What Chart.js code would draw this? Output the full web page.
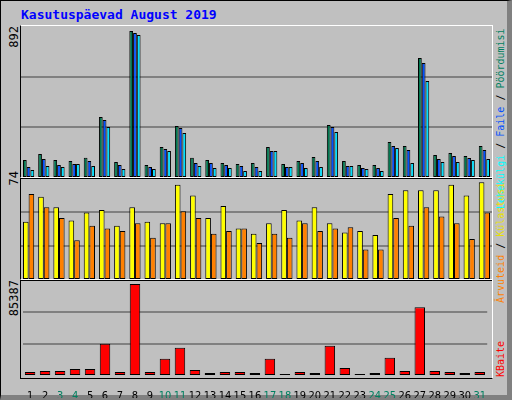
<!DOCTYPE html>
<html lang="et">
<head>
<meta charset="UTF-8">
<title>Kasutuspäevad August 2019</title>
<script src="https://cdn.jsdelivr.net/npm/chart.js"></script>
<style>
  body { margin: 0; background: #fff; font-family: "DejaVu Sans Mono", monospace; }
  #frame { position: absolute; left: 0; top: 0; width: 506px; height: 394px; background: #c0c0c0;
           border: 1px solid #000; border-right: 5px solid #808080; border-bottom: 5px solid #808080; }
  .panel { position: absolute; left: 20px; width: 471px; }
  .box { position: absolute; left: 19px; width: 471px; border: 1px solid #000; border-top-color: #fff; border-right-color: #fff; }
  .rot { position: absolute; transform-origin: 0 0; transform: rotate(-90deg); white-space: nowrap; font-size: 10px; }
  #title { position: absolute; left: 20px; top: 6px; color: #0000ff; font-weight: bold; font-size: 13px; }
</style>
</head>
<body>
<div id="frame">
  <div id="title">Kasutuspäevad August 2019</div>
  <div class="box" style="top:24px;height:152px"></div>
  <div class="box" style="top:176px;height:102px"></div>
  <div class="box" style="top:278px;height:98px"></div>
  <div class="panel" style="top:25px;height:152px"><canvas id="top"></canvas></div>
  <div class="panel" style="top:177px;height:102px"><canvas id="mid"></canvas></div>
  <div class="panel" style="top:279px;height:118px"><canvas id="bot"></canvas></div>

  <div class="rot" style="left:6px;top:49px;text-align:right;width:24px;font-size:12px">892</div>
  <div class="rot" style="left:6px;top:194px;text-align:right;width:24px;font-size:12px">74</div>
  <div class="rot" style="left:6px;top:323px;text-align:right;width:44px;font-size:12px">85387</div>

  <div class="rot" style="left:494px;top:208px;width:180px;text-align:right"><span style="color:#00ffff">Lehekülgi</span> / <span style="color:#0050ff">Faile</span> / <span style="color:#008060">Pöördumisi</span></div>
  <div class="rot" style="left:494px;top:302px;width:150px"><span style="color:#ff8000">Ãrvuteid</span> / <span style="color:#e8e000">Külastusi</span></div>
  <div class="rot" style="left:494px;top:376px;width:80px"><span style="color:#ff0000">KBaite</span></div>
</div>
<script>
const days = ['1','2','3','4','5','6','7','8','9','10','11','12','13','14','15','16','17','18','19','20','21','22','23','24','25','26','27','28','29','30','31'];
const weekend = ['3','4','10','11','17','18','24','25','31'];

const hits  = [109,146,109,103,123,370,97,892,79,188,316,123,109,91,85,91,188,85,103,127,322,103,79,79,218,194,728,140,152,134,194];
const files = [67,115,79,85,103,352,79,880,67,176,303,91,91,79,73,67,164,67,91,103,310,73,61,61,194,170,698,115,134,121,170];
const pages = [49,73,67,85,73,310,55,868,55,164,273,73,61,61,42,42,164,67,61,67,279,73,55,42,182,91,589,97,97,109,115];

const visits   = [44,63,55,45,51,53,41,55,44,43,72,64,47,56,39,35,43,53,45,55,43,36,37,34,65,68,68,68,72,64,74];
const visitors = [65,55,47,30,41,39,37,43,32,43,52,47,35,37,39,28,35,32,43,37,39,40,23,23,47,41,55,48,43,31,51];

const kbytes = [3750,4700,4700,6570,6570,30000,3750,85387,3750,15950,26270,5630,2800,3750,3750,2800,15950,1880,3750,2800,28150,7500,1880,2800,16900,4700,63800,4700,3750,2800,3750];

function opts(max, showX) {
  return {
    responsive: true, maintainAspectRatio: false, animation: false,
    layout: { padding: 0 },
    plugins: { legend: { display: false }, tooltip: { enabled: false } },
    scales: {
      x: {
        grid: { display: false }, border: { display: false },
        ticks: {
          display: showX, autoSkip: false, maxRotation: 0, padding: 6,
          font: { family: 'DejaVu Sans Condensed', size: 11 },
          color: ctx => weekend.includes(days[ctx.index]) ? '#008060' : '#000'
        },
        afterFit: s => { if (showX) s.height = 22; else s.height = 0; }
      },
      y: {
        min: 0, max: max, border: { display: false },
        ticks: { display: false },
        afterBuildTicks: s => { s.ticks = [0, max / 3, max * 2 / 3, max].map(v => ({ value: v })); },
        afterFit: s => { s.width = 0; },
        grid: { drawTicks: false, lineWidth: 2, color: ctx => (ctx.index === 1 || ctx.index === 2) ? '#808080' : 'rgba(0,0,0,0)' }
      }
    }
  };
}

function ds(data, color) {
  return { data: data, backgroundColor: color, borderColor: '#000', borderWidth: 1, borderSkipped: false };
}

new Chart(document.getElementById('top'), {
  type: 'bar',
  data: { labels: days, datasets: [ds(hits, '#007850'), ds(files, '#0050ff'), ds(pages, '#00e0ff')] },
  options: Object.assign(opts(922, false), { datasets: { bar: { categoryPercentage: 0.74, barPercentage: 1 } } })
});

new Chart(document.getElementById('mid'), {
  type: 'bar',
  data: { labels: days, datasets: [ds(visits, '#ffff00'), ds(visitors, '#ff8000')] },
  options: Object.assign(opts(77.2, false), { datasets: { bar: { categoryPercentage: 0.74, barPercentage: 1 } } })
});

new Chart(document.getElementById('bot'), {
  type: 'bar',
  data: { labels: days, datasets: [ds(kbytes, '#ff0000')] },
  options: Object.assign(opts(89140, true), { datasets: { bar: { categoryPercentage: 0.7, barPercentage: 1 } } })
});
</script>
</body>
</html>
